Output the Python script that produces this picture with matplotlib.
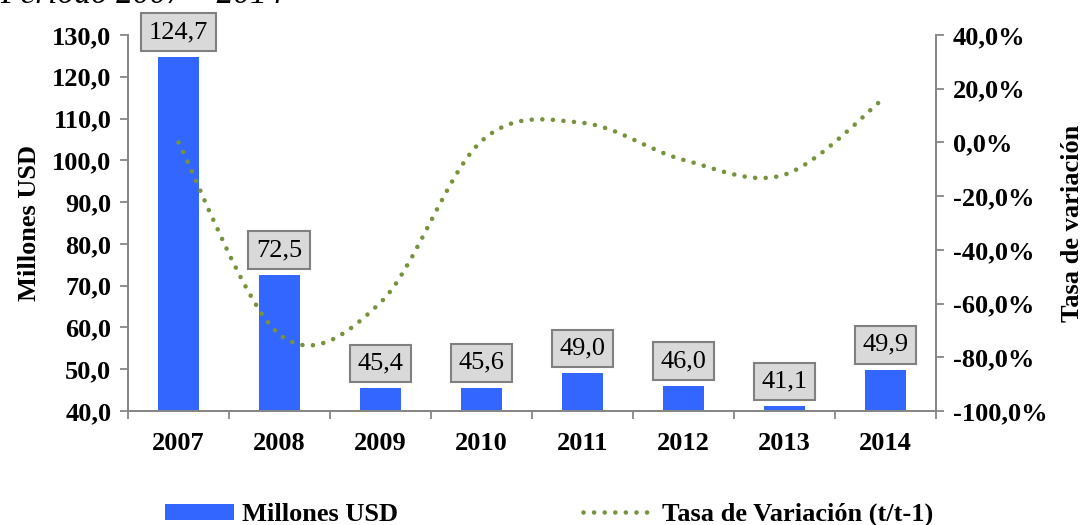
import numpy as np
import matplotlib
matplotlib.use("Agg")
import matplotlib.pyplot as plt
from matplotlib.path import Path
from matplotlib.patches import PathPatch, Patch
from matplotlib.lines import Line2D
from matplotlib.ticker import FixedLocator, FuncFormatter

plt.rcParams['font.family'] = ['Liberation Serif', 'DejaVu Serif']

# Datos
anios = ['2007', '2008', '2009', '2010', '2011', '2012', '2013', '2014']
millones_usd = [124.7, 72.5, 45.4, 45.6, 49.0, 46.0, 41.1, 49.9]
tasa_variacion = [0.0, -71.5, -59.6, 0.5, 7.3, -6.5, -12.0, 17.0]

azul = '#3366FF'
verde = '#76923C'
gris = '#868686'
punteado = (0, (0.01, 2.3))

fig = plt.figure(figsize=(10.9, 5.25), dpi=100)
ax = fig.add_axes([0.1174, 0.2171, 0.7413, 0.7162])
ax2 = ax.twinx()

x = np.arange(len(anios))

# Barras
ax.bar(x, millones_usd, width=0.4, color=azul, zorder=2)
ax.set_xlim(-0.5, len(anios) - 0.5)
ax.set_ylim(40, 130)
ax.set_yticks(np.arange(40, 131, 10))
ax.yaxis.set_major_formatter(FuncFormatter(lambda v, p: f'{v:.1f}'.replace('.', ',')))

# Etiquetas de valor en cajas
for xi, v in zip(x, millones_usd):
    ax.annotate(f'{v:.1f}'.replace('.', ','), (xi, v), xytext=(0, 10),
                textcoords='offset points', ha='center', va='bottom',
                fontsize=19, zorder=5,
                bbox=dict(boxstyle='square,pad=0.3', fc='#D9D9D9', ec='#808080', lw=1.5))

# Curva suavizada (Bezier) de la tasa de variación
pts = np.column_stack([x, tasa_variacion]).astype(float)
verts = [pts[0]]
codes = [Path.MOVETO]
n = len(pts)
for i in range(n - 1):
    p0 = pts[max(i - 1, 0)]
    p1 = pts[i]
    p2 = pts[i + 1]
    p3 = pts[min(i + 2, n - 1)]
    c1 = p1 + (p2 - p0) / 6.0
    c2 = p2 - (p3 - p1) / 6.0
    verts += [c1, c2, p2]
    codes += [Path.CURVE4] * 3
curva = PathPatch(Path(verts, codes), fill=False, edgecolor=verde, lw=3.3,
                  linestyle=punteado, capstyle='round', zorder=4)
ax2.add_patch(curva)
ax2.set_ylim(-100, 40)
ax2.set_yticks(np.arange(-100, 41, 20))
ax2.yaxis.set_major_formatter(FuncFormatter(lambda v, p: f'{v:.1f}%'.replace('.', ',')))

# Ejes
for a in (ax, ax2):
    a.spines['top'].set_visible(False)
    for s in ('left', 'right', 'bottom'):
        a.spines[s].set_color(gris)
        a.spines[s].set_linewidth(1.3)
    a.tick_params(axis='y', length=6, width=1.3, color=gris, labelsize=19, pad=6)
    for lab in a.get_yticklabels():
        lab.set_fontweight('bold')

ax.set_xticks(x)
ax.set_xticklabels(anios, fontsize=19, fontweight='bold')
ax.tick_params(axis='x', which='major', length=0, pad=15)
ax.xaxis.set_minor_locator(FixedLocator(np.arange(-0.5, len(anios), 1)))
ax.tick_params(axis='x', which='minor', length=6, width=1.3, color=gris)

ax.set_ylabel('Millones USD', fontsize=19, fontweight='bold', labelpad=8)
ax2.set_ylabel('Tasa de variación', fontsize=19, fontweight='bold', labelpad=10)

# Leyenda (dos entradas colocadas por separado)
estilo_leyenda = dict(loc='center left', frameon=False, borderpad=0, borderaxespad=0,
                      prop=dict(size=19, weight='bold'), handletextpad=0.3,
                      handleheight=0.55)
fig.legend([Patch(facecolor=azul)], ['Millones USD'],
           bbox_to_anchor=(165 / 1090, 0.0195), handlelength=2.6, **estilo_leyenda)
fig.legend([Line2D([0], [0], color=verde, lw=3.3, linestyle=punteado,
                   dash_capstyle='round')],
           ['Tasa de Variación (t/t-1)'],
           bbox_to_anchor=(583 / 1090, 0.0195), handlelength=2.7, **estilo_leyenda)

# Título (parte superior)
fig.text(0.0, 1 - 3 / 525, 'Período 2007 – 2014', fontsize=24, style='italic',
         ha='left', va='baseline')

fig.savefig('out.png', dpi=100)
